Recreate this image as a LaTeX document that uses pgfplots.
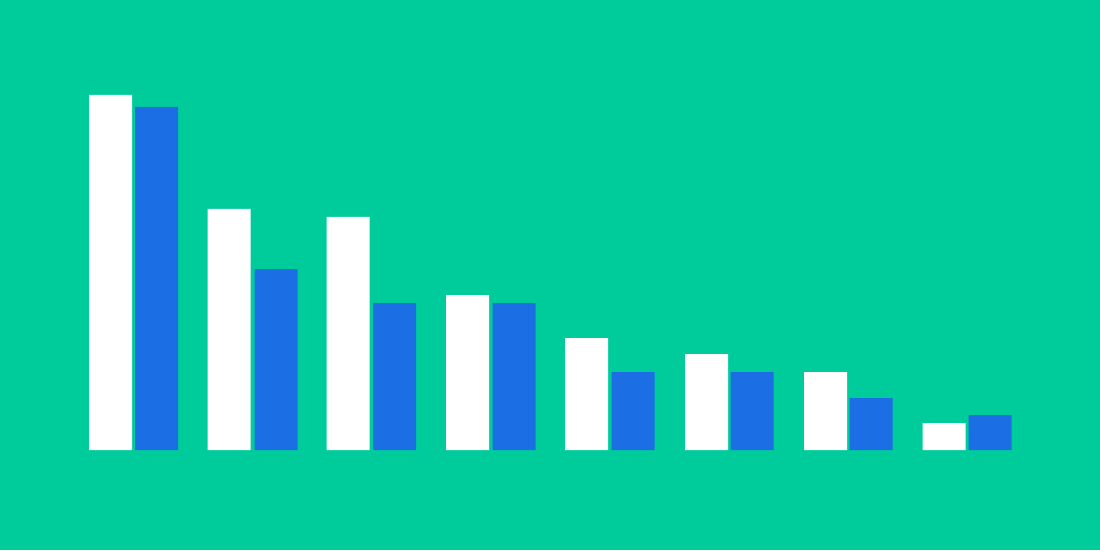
\documentclass[border=0pt]{standalone}
\usepackage{pgfplots}
\pgfplotsset{compat=1.18}
\definecolor{bggreen}{HTML}{00CC9B}
\definecolor{barblue}{HTML}{1C6EE5}
\begin{document}
\begin{tikzpicture}
\fill[bggreen] (0,0) rectangle (1100pt,550pt);
\begin{axis}[
  at={(0,0)}, anchor=south west,
  scale only axis, width=1100pt, height=550pt,
  xmin=0, xmax=1100, ymin=-100, ymax=450,
  axis lines=none, ticks=none,
  ybar, bar width=43, bar shift=0pt,
  clip=false,
]
\addplot[fill=white, draw=none] coordinates {
  (110.5,355) (229,241) (348,233) (467.5,155) (586.5,112) (706.5,96) (825.5,78) (944,27)
};
\addplot[fill=barblue, draw=none] coordinates {
  (156.5,343) (276,181) (394.5,147) (514,147) (633,78) (752,78) (871,52) (990,35)
};
\end{axis}
\end{tikzpicture}
\end{document}
